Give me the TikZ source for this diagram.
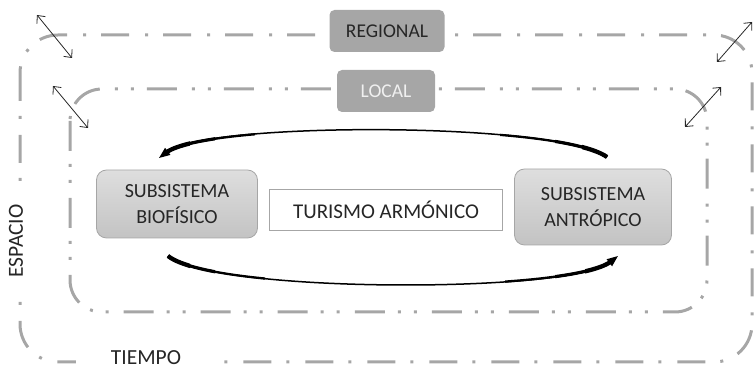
\documentclass[tikz,border=0pt]{standalone}
\usepackage{fontspec}
\setmainfont{Carlito}
\usetikzlibrary{arrows.meta}
\definecolor{linegray}{HTML}{A6A6A6}
\definecolor{boxgray}{HTML}{A6A6A6}
\definecolor{txtdark}{HTML}{262626}
\definecolor{subtop}{HTML}{DEDEDE}
\definecolor{subbot}{HTML}{C3C3C3}
\tikzset{
  outerframe/.style={draw=linegray, line width=3pt, rounded corners=38pt,
    dash pattern=on 28pt off 15pt on 3pt off 16pt},
  innerframe/.style={draw=linegray, line width=3pt, rounded corners=32pt,
    dash pattern=on 30pt off 13pt on 3pt off 13pt on 3pt off 15pt},
  levelbox/.style={fill=boxgray, rounded corners=5pt, font=\fontsize{19.5}{22}\selectfont,
    minimum height=42pt, inner sep=0pt},
  subbox/.style={draw=linegray, line width=0.8pt, rounded corners=10pt,
    top color=subtop, bottom color=subbot, text=txtdark, align=center,
    font=\fontsize{20}{26}\selectfont, inner sep=0pt},
  centerbox/.style={draw=linegray, line width=0.8pt, fill=white, text=txtdark,
    font=\fontsize{21}{24}\selectfont, minimum width=233pt, minimum height=41pt, inner sep=0pt},
  sidelabel/.style={fill=white, text=txtdark, font=\fontsize{21.5}{24}\selectfont, inner sep=0pt},
  scalearrow/.style={draw=txtdark, line width=0.8pt, {Straight Barb[length=6pt,width=11pt]}-{Straight Barb[length=6pt,width=11pt]}},
  cyclearrow/.style={draw=black, line width=1.5pt},
  cyclehead/.style={-{Triangle[length=11pt,width=8.5pt]}},
  taperA/.style={draw=black, line width=2.3pt},
  taperB/.style={draw=black, line width=3.2pt},
  taperC/.style={draw=black, line width=4.3pt}
}
\begin{document}
\begin{tikzpicture}[x=1pt,y=-1pt]
\useasboundingbox (0,0) rectangle (756,371);
% frames
\draw[outerframe] (20,35) rectangle (752,362);
\draw[innerframe] (70,89) rectangle (707,312);
% level labels
\node[levelbox, minimum width=115pt, text=txtdark] (regional) at (387,31) {REGIONAL};
\node[levelbox, minimum width=98pt, text=white!94!black] (local) at (386,91) {LOCAL};
% axes labels
\node[sidelabel, rotate=90, minimum width=100pt, minimum height=16pt] (espacio) at (16,241) {ESPACIO};
\node[sidelabel, minimum width=140pt, minimum height=14pt] (tiempo) at (146,358) {TIEMPO};
% subsystems
\node[subbox, minimum width=161pt, minimum height=68pt] (bio) at (177,204) {SUBSISTEMA\\BIOFÍSICO};
\node[subbox, minimum width=157pt, minimum height=76pt] (antro) at (593,207) {SUBSISTEMA\\ANTRÓPICO};
\node[centerbox] (turismo) at (386,210) {TURISMO ARMÓNICO};
% cycle arrows
\coordinate (topR) at (607,157);
\coordinate (topL) at (159,158);
\coordinate (botL) at (168,256);
\coordinate (botR) at (618,256);
\draw[cyclearrow, cyclehead] (topR) .. controls (557,121.5) and (207,121.5) .. (topL);
\draw[cyclearrow, cyclehead] (botL) .. controls (215,293.5) and (570,293.5) .. (botR);
% tapering near the ends of the top arrow
\begin{scope}
  \clip (500,100) rectangle (620,175);
  \draw[taperA] (topR) .. controls (557,121.5) and (207,121.5) .. (topL);
\end{scope}
\begin{scope}
  \clip (555,100) rectangle (620,175);
  \draw[taperB] (topR) .. controls (557,121.5) and (207,121.5) .. (topL);
\end{scope}
\begin{scope}
  \clip (582,100) rectangle (620,175);
  \draw[taperC] (topR) .. controls (557,121.5) and (207,121.5) .. (topL);
\end{scope}
\begin{scope}
  \clip (140,100) rectangle (255,175);
  \draw[taperA, shorten >=9pt] (topR) .. controls (557,121.5) and (207,121.5) .. (topL);
\end{scope}
\begin{scope}
  \clip (140,100) rectangle (215,175);
  \draw[taperB, shorten >=9pt] (topR) .. controls (557,121.5) and (207,121.5) .. (topL);
\end{scope}
\begin{scope}
  \clip (140,100) rectangle (190,175);
  \draw[taperC, shorten >=9pt] (topR) .. controls (557,121.5) and (207,121.5) .. (topL);
\end{scope}
% tapering near the ends of the bottom arrow
\begin{scope}
  \clip (150,240) rectangle (265,300);
  \draw[taperA] (botL) .. controls (215,293.5) and (570,293.5) .. (botR);
\end{scope}
\begin{scope}
  \clip (150,240) rectangle (215,300);
  \draw[taperB] (botL) .. controls (215,293.5) and (570,293.5) .. (botR);
\end{scope}
\begin{scope}
  \clip (150,240) rectangle (190,300);
  \draw[taperC] (botL) .. controls (215,293.5) and (570,293.5) .. (botR);
\end{scope}
\begin{scope}
  \clip (505,240) rectangle (630,300);
  \draw[taperA, shorten >=9pt] (botL) .. controls (215,293.5) and (570,293.5) .. (botR);
\end{scope}
\begin{scope}
  \clip (555,240) rectangle (630,300);
  \draw[taperB, shorten >=9pt] (botL) .. controls (215,293.5) and (570,293.5) .. (botR);
\end{scope}
\begin{scope}
  \clip (585,240) rectangle (630,300);
  \draw[taperC, shorten >=9pt] (botL) .. controls (215,293.5) and (570,293.5) .. (botR);
\end{scope}
% scale arrows
\coordinate (a1s) at (37,15); \coordinate (a1e) at (72,58);
\coordinate (a2s) at (53,86); \coordinate (a2e) at (88,128);
\coordinate (a3s) at (752,22); \coordinate (a3e) at (717,62);
\coordinate (a4s) at (721,87); \coordinate (a4e) at (685,127);
\draw[scalearrow] (a1s) -- (a1e);
\draw[scalearrow] (a2s) -- (a2e);
\draw[scalearrow] (a3s) -- (a3e);
\draw[scalearrow] (a4s) -- (a4e);
\end{tikzpicture}
\end{document}
